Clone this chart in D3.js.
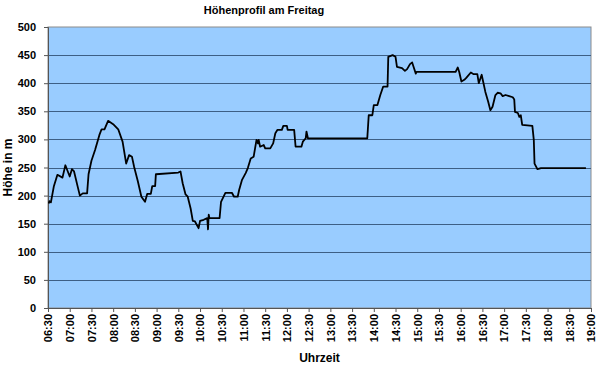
<!DOCTYPE html>
<html>
<head>
<meta charset="utf-8">
<script src="https://cdn.jsdelivr.net/npm/d3@7"></script>
<style>
  body { margin: 0; background: #fff; }
  text { font-family: "Liberation Sans", Arial, sans-serif; font-weight: bold; fill: #000; }
</style>
</head>
<body>
<div id="chart"></div>
<script>
// Höhenprofil data
var times = ["06:31","06:32","06:34","06:38","06:43","06:50","06:54","07:00","07:03","07:06","07:11","07:14","07:18","07:24","07:26","07:30","07:35","07:41","07:44","07:48","07:53","08:00","08:07","08:13","08:18","08:22","08:26","08:29","08:34","08:39","08:44","08:47","08:52","08:54","08:58","08:59","09:30","09:33","09:36","09:40","09:43","09:47","09:50","09:53","09:58","10:00","10:05","10:10","10:11","10:12","10:13","10:27","10:29","10:35","10:44","10:47","10:52","10:54","10:58","11:03","11:06","11:10","11:14","11:16","11:18","11:20","11:21","11:23","11:28","11:30","11:37","11:41","11:44","11:47","11:53","11:55","12:00","12:01","12:10","12:12","12:20","12:22","12:26","12:27","12:29","13:51","13:53","13:58","14:00","14:05","14:07","14:09","14:13","14:19","14:20","14:26","14:30","14:32","14:39","14:43","14:46","14:50","14:53","14:55","14:58","14:59","15:53","15:56","15:58","16:01","16:05","16:08","16:14","16:18","16:23","16:25","16:29","16:31","16:34","16:38","16:41","16:44","16:48","16:51","16:55","16:58","17:02","17:07","17:12","17:14","17:15","17:19","17:21","17:23","17:25","17:39","17:41","17:42","17:46","17:51","18:53"];
var hoehe = [186,190,188,216,237,232,254,234,247,243,216,200,204,204,238,262,281,308,318,318,333,327,318,296,257,272,269,251,226,198,189,203,203,217,217,238,241,243,222,202,198,177,155,154,142,155,157,160,140,166,160,160,189,205,205,198,198,210,228,240,249,266,269,284,299,293,299,287,290,284,284,293,311,317,317,324,324,317,317,287,287,296,302,314,302,302,343,343,361,361,370,379,394,394,447,450,447,429,427,422,425,434,437,429,417,420,420,428,420,403,406,410,419,416,416,400,415,403,385,367,352,358,379,383,382,377,379,377,375,371,349,347,340,343,326,324,299,257,247,249,249];
var yTicks = [0,50,100,150,200,250,300,350,400,450,500];

var W = 600, H = 367;
var margin = {top: 27, right: 9, bottom: 59, left: 48},
    width = W - margin.left - margin.right,
    height = H - margin.top - margin.bottom;

var parse = d3.timeParse("%H:%M");
var data = times.map(function(t, i) { return {t: parse(t), v: hoehe[i]}; });

var x = d3.scaleTime()
    .domain([parse("06:30"), parse("19:00")])
    .range([0, width]);
var y = d3.scaleLinear()
    .domain([0, 500])
    .range([height, 0]);

var svg = d3.select("#chart").append("svg")
    .attr("width", W)
    .attr("height", H);

var g = svg.append("g")
    .attr("transform", "translate(" + margin.left + "," + margin.top + ")");

// plot area
g.append("rect")
    .attr("width", width)
    .attr("height", height)
    .attr("fill", "#99ccff")
    .attr("stroke", "#8c8c8c")
    .attr("stroke-width", 1);

// gridlines
g.selectAll(".grid")
    .data(yTicks.slice(1, -1))
  .enter().append("line")
    .attr("x1", 0)
    .attr("x2", width)
    .attr("y1", function(d) { return Math.round(y(d)) + 0.5; })
    .attr("y2", function(d) { return Math.round(y(d)) + 0.5; })
    .attr("stroke", "#3d5f85")
    .attr("stroke-width", 1);

// y axis
var yAxis = g.append("g")
    .call(d3.axisLeft(y).tickValues(yTicks).tickSizeOuter(0).tickSize(4).tickPadding(8));
yAxis.selectAll("text").style("font-size", "11px");

// x axis
var xAxis = g.append("g")
    .attr("transform", "translate(0," + height + ")")
    .call(d3.axisBottom(x)
      .ticks(d3.timeMinute.every(30))
      .tickFormat(d3.timeFormat("%H:%M"))
      .tickSizeOuter(0).tickSize(4));
xAxis.selectAll("text")
    .style("font-size", "11px")
    .attr("text-anchor", "end")
    .attr("transform", "rotate(-90)")
    .attr("x", -6)
    .attr("y", 0)
    .attr("dy", "0.35em");

g.selectAll(".domain, .tick line").attr("stroke", "#555");

// the line
var line = d3.line()
    .x(function(d) { return x(d.t); })
    .y(function(d) { return y(d.v); });

g.append("path")
    .datum(data)
    .attr("fill", "none")
    .attr("stroke", "#000")
    .attr("stroke-width", 1.8)
    .attr("stroke-linejoin", "round")
    .attr("d", line);

// titles
svg.append("text")
    .attr("x", 264)
    .attr("y", 14)
    .attr("text-anchor", "middle")
    .style("font-size", "11px")
    .text("Höhenprofil am Freitag");

svg.append("text")
    .attr("x", margin.left + width / 2)
    .attr("y", 362)
    .attr("text-anchor", "middle")
    .style("font-size", "12px")
    .text("Uhrzeit");

svg.append("text")
    .attr("transform", "translate(12," + (margin.top + height / 2) + ") rotate(-90)")
    .attr("text-anchor", "middle")
    .style("font-size", "12px")
    .text("Höhe in m");
</script>
</body>
</html>
